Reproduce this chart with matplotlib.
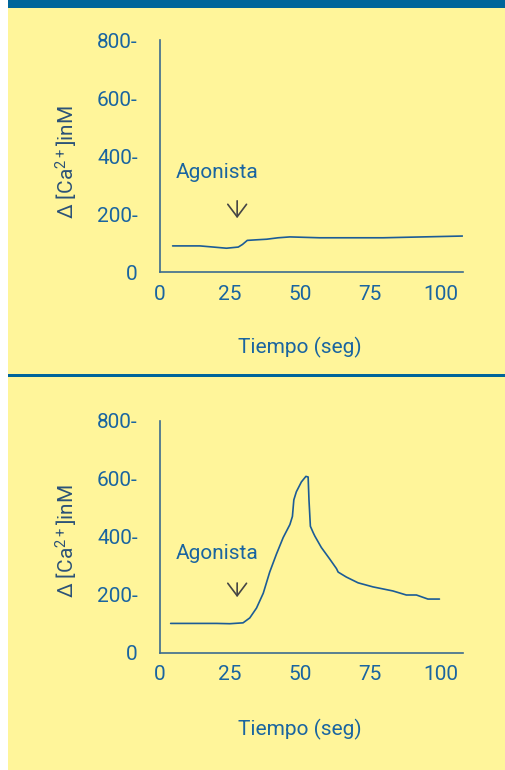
import matplotlib
matplotlib.use("Agg")
import matplotlib.pyplot as plt
from matplotlib.patches import Rectangle

# control (top): almost flat response after the agonist
t_top = [4.5, 14.2, 19.0, 23.7, 27.9, 29.4, 31.1, 34.4, 38.0, 42.1, 46.3, 56.9, 79.5, 107.8]
ca_top = [90, 90, 86, 82, 86, 95, 109, 111, 113, 118, 121, 118, 118, 124]

# stimulated (bottom): transient peak
t_bot = [3.8, 20.2, 24.9, 29.6, 32.0, 34.4, 36.8, 39.1, 41.5, 43.9, 46.3, 47.2, 47.7,
         48.6, 50.4, 52.0, 52.8, 53.1, 53.6, 54.6, 55.2, 57.5, 60.5, 62.9, 63.5, 66.4,
         70.6, 75.9, 83.0, 87.8, 91.4, 95.5, 99.6]
ca_bot = [102, 102, 101, 104, 121, 155, 206, 279, 341, 398, 443, 471, 528,
          556, 590, 609, 607, 528, 437, 415, 403, 364, 324, 291, 279, 262,
          242, 228, 214, 200, 200, 186, 186]

xticks = [0, 25, 50, 75, 100]
yticks = [0, 200, 400, 600, 800]
ytick_labels = ["0", "200-", "400-", "600-", "800-"]
agonist_t = 27.5

YELLOW = "#fff59a"
BLUE = "#00659a"
TEXT = "#1a65a0"
AXIS = "#3c6c8e"
LINE = "#1c5c96"

plt.rcParams.update({"font.family": ["Roboto", "DejaVu Sans"], "font.size": 15,
                     "mathtext.fontset": "custom", "mathtext.rm": "Roboto",
                     "mathtext.default": "regular"})

fig = plt.figure(figsize=(5.05, 7.70), dpi=100, facecolor="white")
# panel background, top band and divider
fig.patches.append(Rectangle((8/505, 0), 1, 1, transform=fig.transFigure, facecolor=YELLOW,
                             edgecolor="none", zorder=-3))
fig.patches.append(Rectangle((8/505, 1-8/770), 1, 8/770, transform=fig.transFigure,
                             facecolor=BLUE, edgecolor="none", zorder=-2))
fig.patches.append(Rectangle((8/505, 1-376.5/770), 1, 2.3/770, transform=fig.transFigure,
                             facecolor=BLUE, edgecolor="none", zorder=-2))


def panel(rect, t, ca, ylab_y, xlab_y, arrow_y):
    ax = fig.add_axes(rect)
    ax.set_facecolor("none")
    ax.plot(t, ca, color=LINE, lw=1.2, solid_joinstyle="round", solid_capstyle="round")
    ax.set_xlim(0, 108); ax.set_ylim(0, 800)
    for s in ("top", "right"):
        ax.spines[s].set_visible(False)
    for s in ("left", "bottom"):
        ax.spines[s].set_color(AXIS); ax.spines[s].set_linewidth(1.2)
    ax.set_xticks(xticks); ax.set_xticklabels([str(v) for v in xticks])
    ax.set_yticks(yticks); ax.set_yticklabels(ytick_labels)
    ax.tick_params(length=0, colors=TEXT, labelsize=15)
    ax.tick_params(axis="y", pad=16)
    ax.tick_params(axis="x", pad=9)
    ax.set_ylabel("Δ [Ca$^{2+}$]inM", color="#2b5278", fontsize=15)
    ax.yaxis.set_label_coords(-0.265, ylab_y)
    ax.set_xlabel("Tiempo (seg)", color=TEXT, fontsize=15)
    ax.xaxis.set_label_coords(0.462, xlab_y)
    ax.text(5.7, 342, "Agonista", color=TEXT, fontsize=15, ha="left", va="center")
    ax.annotate("", xy=(agonist_t, arrow_y[1]), xytext=(agonist_t, arrow_y[0]),
                arrowprops=dict(arrowstyle="->,head_length=0.6,head_width=0.45",
                                color="#454545", lw=1.2))
    return ax


panel([160/505, 1-272/770, 303/505, 232/770], t_top, ca_top, 0.474, -0.28, (255, 176))
panel([160/505, 1-653/770, 303/505, 232/770], t_bot, ca_bot, 0.483, -0.285, (251, 183))

fig.savefig("out.png", dpi=100, facecolor=fig.get_facecolor())
